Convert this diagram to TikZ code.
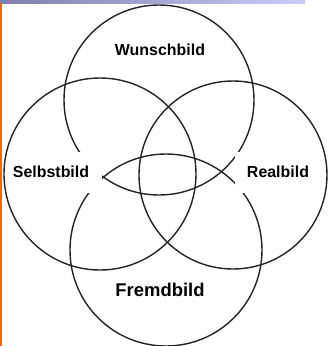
\documentclass[tikz,border=0pt]{standalone}
\usepackage{fontspec}
\setmainfont{Liberation Sans}
\definecolor{barleft}{RGB}{128,128,172}
\definecolor{barright}{RGB}{202,202,252}
\definecolor{edgeline}{RGB}{255,102,0}
\definecolor{ink}{RGB}{35,35,35}

\begin{document}
\begin{tikzpicture}[x=1bp, y=-1bp,
    ring/.style={draw=ink, line width=1.4bp},
    tag/.style={font=\fontsize{16}{18}\selectfont\bfseries, text=black},
    tagbox/.style={tag, fill=white, minimum height=41bp, inner sep=0pt}]
    \useasboundingbox (0,0) rectangle (328,346);
    % frame
    \shade[left color=barleft, right color=barright] (0,0) rectangle (305,3);
    \fill[edgeline] (0,3) rectangle (2,346);
    % circles
    \coordinate (wunsch) at (159,100);
    \coordinate (selbst) at (100,174);
    \coordinate (real) at (233,175);
    \coordinate (fremd) at (166,250);
    \draw[ring] (wunsch) circle (95);
    \draw[ring] (selbst) circle (96);
    \draw[ring] (real) circle (94);
    \draw[ring] (fremd) circle (96);
    % labels
    \node[tag] (wunschlbl) at (160,50) {Wunschbild};
    \node[tagbox, minimum width=94bp] (selbstlbl) at (54.5,172) {Selbstbild\kern7bp};
    \node[tagbox, minimum width=85bp] (reallbl) at (278,172) {Realbild};
    \node[tag, font=\fontsize{18.5}{20}\selectfont\bfseries] (fremdlbl) at (160,290) {Fremdbild};
\end{tikzpicture}
\end{document}
